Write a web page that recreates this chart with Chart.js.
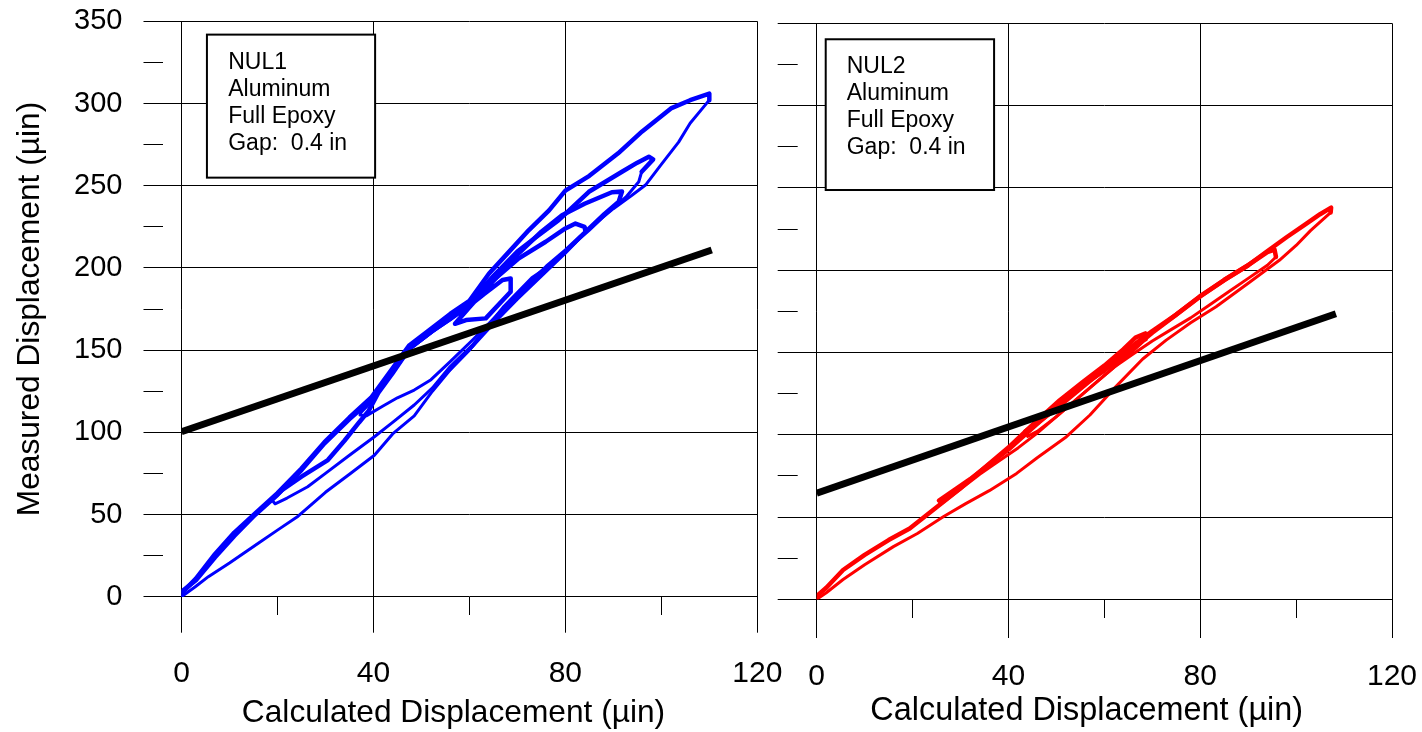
<!DOCTYPE html>
<html>
<head>
<meta charset="utf-8">
<script src="https://cdn.jsdelivr.net/npm/chart.js@4.4.0/dist/chart.umd.min.js"></script>
<style>
  html, body { margin: 0; padding: 0; background: #fff; width: 1422px; height: 732px; overflow: hidden; }
  canvas { position: absolute; left: 0; top: 0; }
</style>
</head>
<body>
<canvas id="nul1" width="1422" height="732"></canvas>
<canvas id="nul2" width="1422" height="732"></canvas>
<script>
// ---------- text & ticks ----------
const xTitle = 'Calculated Displacement (\u00b5in)';
const yTitle = 'Measured Displacement (\u00b5in)';
const xTickLabels = [0, 40, 80, 120];
const yTickLabels = [0, 50, 100, 150, 200, 250, 300, 350];
const nul1Note = ['NUL1', 'Aluminum', 'Full Epoxy', 'Gap:  0.4 in'];
const nul2Note = ['NUL2', 'Aluminum', 'Full Epoxy', 'Gap:  0.4 in'];

// ---------- fitted (calculated vs measured) straight lines ----------
const nul1Fit = [[0, 100.3], [110.5, 210.9]];
const nul2Fit = [[0, 64.5], [108.3, 173.5]];

// ---------- NUL1 hysteresis record [calculated, measured] ----------
const nul1Up1 = [[0,0],[0,3],[3,10],[7,24],[11,37],[15.3,49.7],[20,62],[25,77],[29.8,93.3],[35,108],[39.5,119.6],[43,133],[47.5,151],[52,161],[56,169],[60,178],[64,190],[70.3,205.8],[75.9,215.9],[80,224],[82.1,227],[84,225],[84.2,222]];
const nul1Down1 = [[82,215],[79,207],[76,200],[73,194],[67,176],[60.6,153],[56,140],[52.3,127],[48.5,116.6],[44,106],[40.2,97.3],[35,86],[30,75],[26.3,66.9],[22,60],[19.5,56.5],[18.8,59]];
const nul1Up2 = [[21,65],[25,73],[30.5,83.1],[34,95],[37,106],[39,113],[41,124],[44,136],[47.5,151],[52,161],[56,169],[60,177],[63,184],[66.9,192.6],[68.6,193.6],[68.6,185.5],[63.4,169.3],[59.3,168.3],[57,166],[60,176],[64,189],[70,208],[75,222],[79.3,232],[84,239],[89.7,246],[91.8,246.5],[91.2,241]];
const nul1Down2 = [[88,233],[84,222],[80,211],[76,201],[72,190],[68,178],[64,166],[60.6,156],[56,143],[52,132],[48.5,125.7],[45,121],[42,116],[38.5,110],[37.2,110.5],[37.5,113]];
const nul1Up3 = [[39.5,119],[43,133],[47.5,151],[52,161],[56,170],[60,179],[65,195],[70,210],[74,219],[78.6,229],[84.9,246.3],[91.8,258.5],[95,264],[97.4,267.6],[98.3,266],[95.9,258.5]];
const nul1Down3 = [[95.3,252.4],[92.6,243],[89,234],[85,223],[80,210],[75,197],[70,183],[65,168],[60.6,152],[56,138],[52.3,125],[48.5,110],[44,99],[40.2,86],[35,74.5],[30,63.5],[24.3,49],[20,40.5],[16,32.5],[10,20.5],[5.6,12.2],[2.8,5.9],[0,0]];
const nul1Up4 = [[0,2],[3,11],[7,26],[11,39],[15.3,50.5],[20,63],[25,78],[29.8,94],[35,109],[39.5,121],[43,135],[47.5,153],[52,163],[56,172],[60,180],[64.1,196.6],[68,209],[72.4,223],[76.6,235],[80,247],[85,256],[91,269.7],[96,283],[102,297],[106,302],[110,306],[110,302]];
const nul1Down4 = [[109.6,300.7],[106,288],[103.6,276.5],[100,263],[96.7,250.4],[93.8,244],[90,236],[85,224],[80,209],[75,195],[70,181],[65,166],[60,150],[56,138]];

// ---------- NUL2 hysteresis record [calculated, measured] ----------
const nul2Up1 = [[0,0],[0,2],[2,7],[5.5,17.8],[10,27],[15,36],[19.4,43],[25,56],[29.8,67],[35,80],[40.3,93],[45,106],[50.7,121],[55.5,132],[60,142],[64,152],[66.5,159],[68.5,161.5],[68.6,158]];
const nul2Down1 = [[66,151],[62,141],[58,131],[54,121],[50,111],[46,101],[42,92],[38,84],[34,76],[30,67],[26,58],[25.5,60]];
const nul2Up2 = [[28,65],[32,73],[36,82],[40,91],[45,104],[50,117],[55,129],[60,139],[65,150],[70,162],[75,173],[80,184],[85,194],[90,203],[94,211],[95.5,212.5],[95.8,208]];
const nul2Down2 = [[94,203],[90,195],[86,187],[82,179],[78,171],[74,164],[70,157],[66,149],[62,141],[58,131],[54,121],[50,111],[46,102],[44,99],[43.5,102]];
const nul2Up3 = [[46,107],[50,116],[55,128],[60,140],[65,152],[70,163],[75,173],[79.9,184],[85,194],[90,203],[93.75,211],[98,220],[102,228],[105,234],[107.3,238],[107.2,235]];
const nul2Down3 = [[107,234.5],[103,224],[100,215],[96.5,206],[90,192],[83.3,177.8],[78,168],[72.9,157.5],[68,146],[62,128],[57,112],[52.1,98.8],[46,86],[41.7,76.5],[36,66],[31,58],[26.4,50.2],[21,40],[16,32],[10,21],[5.5,12],[2,4],[0,0]];

const nul1Segments = [nul1Up1, nul1Down1, nul1Up2, nul1Down2, nul1Up3, nul1Down3, nul1Up4, nul1Down4];
const nul2Segments = [nul2Up1, nul2Down1, nul2Up2, nul2Down2, nul2Up3, nul2Down3];

// ---------- drawing ----------
const FONT = "'Liberation Sans', Arial, Helvetica, sans-serif";
const toXY = a => a.map(([x, y]) => ({ x, y }));
const isMajor = (c, list) => !!(c.tick && list.includes(c.tick.value));

// rising (loading) branches are the quantised, stair-stepped ones: drawn heavier
function segmentDatasets(segs, color) {
  return segs.map((seg, i) => {
    const pts = i > 0 ? [segs[i - 1][segs[i - 1].length - 1], ...seg] : seg;
    return {
      data: toXY(pts), showLine: true, borderColor: color,
      borderWidth: i % 2 === 0 ? 4.5 : 3, pointRadius: 0,
      borderJoinStyle: 'round', borderCapStyle: 'round', tension: 0, order: 1
    };
  });
}

const notePlugin = {
  id: 'note',
  beforeDatasetsDraw(chart, args, o) {
    const ctx = chart.ctx, xs = chart.scales.x, ys = chart.scales.y;
    const l = xs.getPixelForValue(o.box[0]), r = xs.getPixelForValue(o.box[2]);
    const t = ys.getPixelForValue(o.box[1]), b = ys.getPixelForValue(o.box[3]);
    ctx.save();
    ctx.fillStyle = '#fff';
    ctx.fillRect(l, t, r - l, b - t);
    ctx.lineWidth = 2;
    ctx.strokeStyle = '#000';
    ctx.strokeRect(l, t, r - l, b - t);
    ctx.fillStyle = '#000';
    ctx.font = o.fontSize + 'px ' + FONT;
    ctx.textAlign = 'left';
    ctx.textBaseline = 'alphabetic';
    o.lines.forEach((s, i) => ctx.fillText(s, l + o.dx, t + o.dy + i * o.gap));
    ctx.restore();
  },
  afterDraw(chart, args, o) {
    const ctx = chart.ctx;
    ctx.save();
    ctx.fillStyle = '#000';
    ctx.font = o.titleSize + 'px ' + FONT;
    ctx.textAlign = 'center';
    ctx.textBaseline = 'alphabetic';
    ctx.fillText(o.title, o.titleX, o.titleY);
    ctx.restore();
  }
};

const noPad = s => { s.paddingTop = 0; s.paddingBottom = 0; s.paddingLeft = 0; s.paddingRight = 0; };

function panel(id, o) {
  return new Chart(document.getElementById(id), {
    type: 'scatter',
    data: {
      datasets: [
        { data: toXY(o.fit), showLine: true, borderColor: '#000', borderWidth: 7, pointRadius: 0, borderCapStyle: 'butt', order: 0 },
        ...segmentDatasets(o.segments, o.color)
      ]
    },
    options: {
      responsive: false,
      animation: false,
      layout: { padding: o.pad },
      plugins: {
        legend: { display: false },
        tooltip: { enabled: false },
        note: o.note
      },
      scales: {
        x: {
          type: 'linear', position: 'bottom', min: 0, max: 120,
          afterFit: s => { s.height = o.xAxisH; noPad(s); },
          border: { display: false },
          grid: {
            color: c => isMajor(c, xTickLabels) ? '#000' : 'rgba(0,0,0,0)',
            tickColor: '#000', lineWidth: 1, tickWidth: 1, tickLength: o.xTickLen,
            tickBorderDash: c => isMajor(c, xTickLabels) ? [] : [o.xMinorLen, 500]
          },
          ticks: {
            stepSize: 20, autoSkip: false, maxRotation: 0, padding: o.xPad, color: '#000',
            font: { family: FONT, size: 30 },
            callback: v => xTickLabels.includes(v) ? String(v) : ''
          }
        },
        y: {
          type: 'linear', position: 'left', min: 0, max: 350,
          afterFit: s => { s.width = o.yAxisW; noPad(s); },
          border: { display: false },
          grid: {
            color: c => isMajor(c, yTickLabels) ? '#000' : 'rgba(0,0,0,0)',
            tickColor: '#000', lineWidth: 1, tickWidth: 1, tickLength: o.yTickLen,
            tickBorderDash: c => isMajor(c, yTickLabels) ? [] : [o.yMinorLen, 500]
          },
          ticks: {
            display: o.yLabels, stepSize: 25, autoSkip: false, padding: 21, color: '#000',
            font: { family: FONT, size: 29 },
            callback: v => yTickLabels.includes(v) ? String(v) : ''
          },
          title: {
            display: o.yLabels, text: yTitle, color: '#000',
            font: { family: FONT, size: 31.7 },
            padding: { top: 11, bottom: 0 }
          }
        }
      }
    },
    plugins: [notePlugin]
  });
}

panel('nul1', {
  fit: nul1Fit, segments: nul1Segments, color: '#0000ff',
  pad: { left: 0, top: 21.3, right: 664.7, bottom: 0 },
  xAxisH: 135.3, yAxisW: 181.5,
  xTickLen: 36, xMinorLen: 18, xPad: 22.6,
  yTickLen: 38, yMinorLen: 19.5, yLabels: true,
  note: { box: [5.3, 341.9, 40.35, 254.9], lines: nul1Note, fontSize: 23, dx: 21.3, dy: 34.3, gap: 27.1,
          title: xTitle, titleSize: 31.7, titleX: 453.5, titleY: 721.7 }
});

panel('nul2', {
  fit: nul2Fit, segments: nul2Segments, color: '#ff0000',
  pad: { left: 776.7, top: 23.3, right: 30, bottom: 0 },
  xAxisH: 132.7, yAxisW: 40,
  xTickLen: 38.7, xMinorLen: 19, xPad: 20.3,
  yTickLen: 39, yMinorLen: 20, yLabels: false,
  note: { box: [1.88, 340.3, 37.0, 248.7], lines: nul2Note, fontSize: 23, dx: 21, dy: 33.4, gap: 27.2,
          title: xTitle, titleSize: 32.4, titleX: 1086.7, titleY: 720 }
});
</script>
</body>
</html>
